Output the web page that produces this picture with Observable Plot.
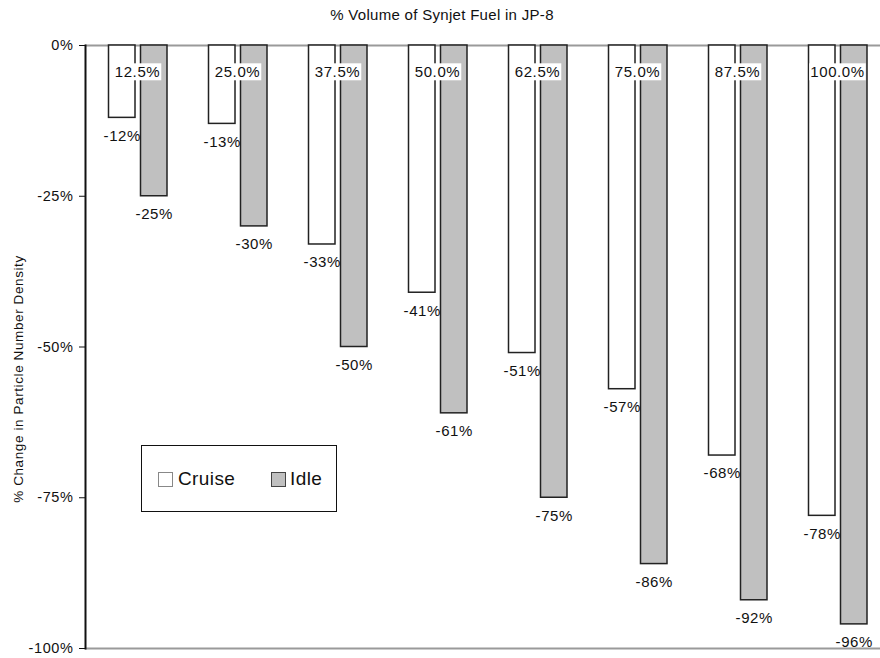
<!DOCTYPE html>
<html>
<head>
<meta charset="utf-8">
<script src="https://cdn.jsdelivr.net/npm/d3@7"></script>
<script src="https://cdn.jsdelivr.net/npm/@observablehq/plot@0.6"></script>
<style>
  body { margin: 0; background: #fff; }
  #wrap { position: relative; width: 880px; height: 658px; font-family: "Liberation Sans", Arial, sans-serif; color: #111; }
  #title { position: absolute; top: 6px; left: 0; width: 884px; text-align: center; font-size: 15px; letter-spacing: 0.3px; }
  #legend { position: absolute; left: 141px; top: 445px; width: 194px; height: 65px; border: 1.6px solid #111; background: #fff; font-size: 19px; }
  .sw { position: absolute; top: 26px; width: 13px; height: 13px; }
  .lt { position: absolute; top: 22px; line-height: 22px; letter-spacing: 0.4px; }
  svg text { letter-spacing: 0.6px; }
</style>
</head>
<body>
<div id="wrap">
  <div id="title">% Volume of Synjet Fuel in JP-8</div>
  <div id="chart"></div>
  <div id="legend">
    <div class="sw" style="left:16px; background:#fff; border:1.5px solid #888;"></div>
    <div class="lt" style="left:36px;">Cruise</div>
    <div class="sw" style="left:129px; background:#c0c0c0; border:1.5px solid #444;"></div>
    <div class="lt" style="left:148px;">Idle</div>
  </div>
</div>
<script>
const categories = ["12.5%", "25.0%", "37.5%", "50.0%", "62.5%", "75.0%", "87.5%", "100.0%"];
const cruise = [-12, -13, -33, -41, -51, -57, -68, -78];
const idle = [-25, -30, -50, -61, -75, -86, -92, -96];
const yTicks = [0, -25, -50, -75, -100];
const yLabel = "% Change in Particle Number Density";

const cruiseRows = categories.map((c, i) => ({category: c, value: cruise[i]}));
const idleRows = categories.map((c, i) => ({category: c, value: idle[i]}));

const chart = Plot.plot({
  width: 880,
  height: 658,
  marginTop: 45,
  marginBottom: 10,
  marginLeft: 85,
  marginRight: -9,
  style: {fontFamily: "Liberation Sans, Arial, sans-serif", fontSize: "14px", color: "#111", background: "transparent"},
  x: {domain: categories, padding: 0, axis: null},
  y: {domain: [-100, 0], axis: null},
  marks: [
    Plot.ruleY([0, -100], {stroke: "#9a9a9a", strokeWidth: 2.2}),
    Plot.barY(cruiseRows, {x: "category", y1: 0, y2: "value", fill: "white", stroke: "#222", strokeWidth: 1.5, insetLeft: 21.5, insetRight: 52}),
    Plot.barY(idleRows, {x: "category", y1: 0, y2: "value", fill: "#c0c0c0", stroke: "#222", strokeWidth: 1.5, insetLeft: 53.5, insetRight: 20}),
    Plot.frame({anchor: "left", stroke: "#111", strokeWidth: 2}),
    Plot.axisY({ticks: yTicks, tickFormat: d => `${d}%`, tickSize: 6, tickPadding: 6, label: null, fontSize: 14.5}),
    Plot.text([yLabel], {frameAnchor: "left", textAnchor: "middle", lineAnchor: "middle", rotate: -90, dx: -67, dy: 32, fontSize: 13.5, text: d => d}),
    Plot.text(categories, {x: d => d, frameAnchor: "top", lineAnchor: "middle", dy: 27, text: d => d, fontSize: 15, className: "catlabel"}),
    Plot.text(cruiseRows, {x: "category", y: "value", text: d => `${d.value}%`, dx: -15.25, dy: 18, fontSize: 15}),
    Plot.text(idleRows, {x: "category", y: "value", text: d => `${d.value}%`, dx: 16.75, dy: 18, fontSize: 15})
  ]
});
document.getElementById("chart").appendChild(chart);

// white boxes behind the category labels
chart.querySelectorAll("g.catlabel text").forEach(t => {
  const b = t.getBBox();
  const r = document.createElementNS("http://www.w3.org/2000/svg", "rect");
  r.setAttribute("x", b.x - 1);
  r.setAttribute("y", b.y);
  r.setAttribute("width", b.width + 2);
  r.setAttribute("height", b.height);
  r.setAttribute("fill", "white");
  const tr = t.getAttribute("transform");
  if (tr) r.setAttribute("transform", tr);
  t.parentNode.insertBefore(r, t);
});
</script>
</body>
</html>
